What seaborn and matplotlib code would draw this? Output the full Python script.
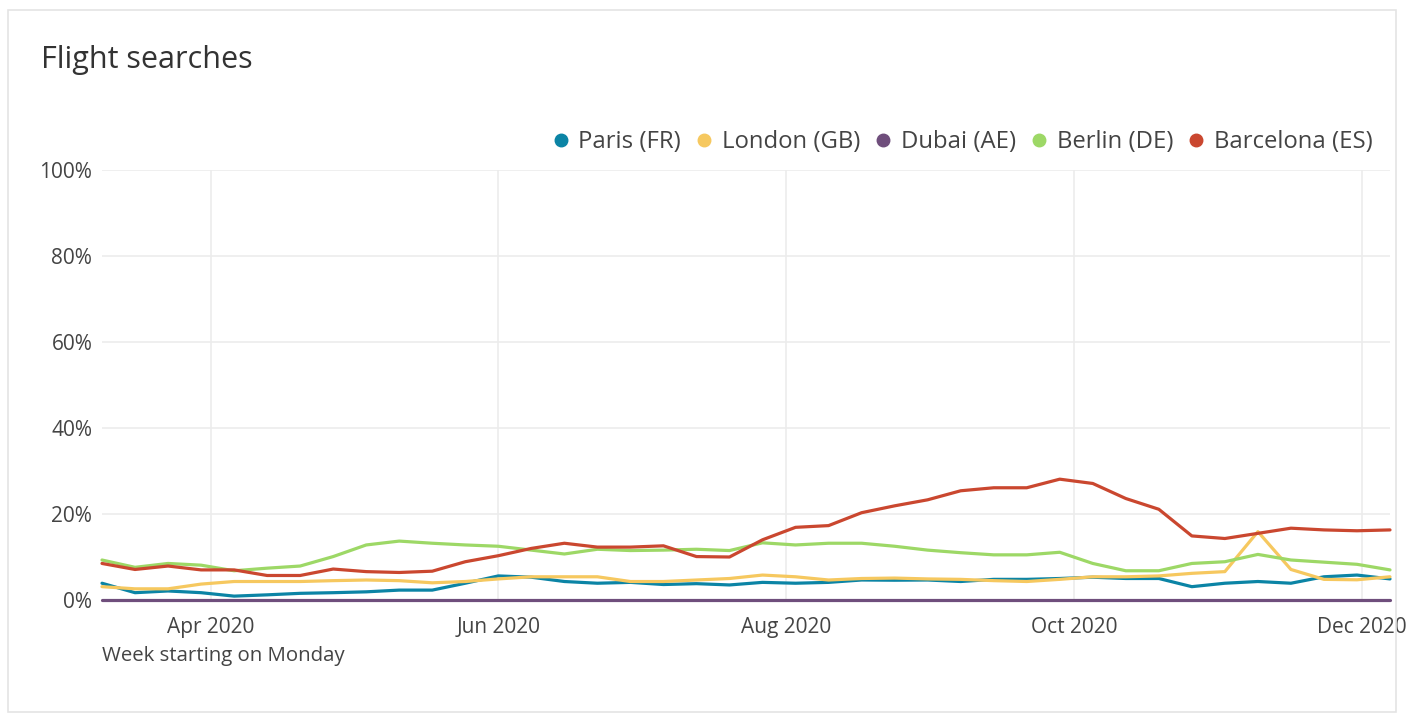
import pandas as pd
import numpy as np
import matplotlib
matplotlib.use("Agg")
import matplotlib.pyplot as plt
import matplotlib.dates as mdates
from matplotlib.lines import Line2D
from matplotlib.patches import Rectangle
import seaborn as sns

# weekly data, weeks starting on Monday 9 Mar 2020 .. 7 Dec 2020
weeks = pd.date_range("2020-03-09", "2020-12-07", freq="7D")

paris = [3.9, 1.7, 2.1, 1.7, 0.9, 1.2, 1.55, 1.7, 1.9, 2.3, 2.3, 3.9,
         5.6, 5.3, 4.3, 3.9, 4.1, 3.6, 3.8, 3.5, 4.1, 3.9, 4.1, 4.65,
         4.6, 4.65, 4.3, 4.8, 4.8, 5.0, 5.3, 5.0, 5.0, 3.1, 3.9, 4.3,
         3.9, 5.4, 5.8, 4.9]
london = [3.1, 2.6, 2.6, 3.7, 4.3, 4.3, 4.3, 4.5, 4.65, 4.5, 4.0, 4.3,
          4.9, 5.4, 5.4, 5.4, 4.3, 4.3, 4.65, 5.0, 5.8, 5.4, 4.65, 5.0,
          5.1, 4.9, 4.8, 4.5, 4.3, 4.8, 5.4, 5.4, 5.6, 6.2, 6.6, 15.9,
          7.1, 4.8, 4.7, 5.4]
dubai = [0.0] * 40
berlin = [9.3, 7.6, 8.5, 8.1, 6.8, 7.4, 7.9, 10.1, 12.8, 13.7, 13.2, 12.8,
          12.5, 11.6, 10.7, 11.8, 11.5, 11.6, 11.8, 11.5, 13.3, 12.8, 13.2, 13.2,
          12.5, 11.6, 11.0, 10.5, 10.5, 11.1, 8.5, 6.8, 6.8, 8.5, 8.9, 10.6,
          9.3, 8.8, 8.3, 7.0]
barcelona = [8.5, 7.1, 7.9, 7.0, 7.0, 5.7, 5.7, 7.2, 6.6, 6.4, 6.7, 8.9,
             10.3, 12.0, 13.2, 12.3, 12.3, 12.6, 10.1, 10.0, 14.0, 16.9, 17.3, 20.3,
             21.9, 23.3, 25.4, 26.1, 26.1, 28.1, 27.1, 23.6, 21.1, 14.9, 14.3, 15.5,
             16.7, 16.3, 16.1, 16.3]

cities = ["Paris (FR)", "London (GB)", "Dubai (AE)", "Berlin (DE)", "Barcelona (ES)"]
colors = ["#0b84a5", "#f6c85f", "#6f4e7c", "#9dd866", "#ca472f"]
month_ticks = ["2020-04-01", "2020-06-01", "2020-08-01", "2020-10-01", "2020-12-01"]

df = pd.DataFrame({"week": weeks, "Paris (FR)": paris, "London (GB)": london,
                   "Dubai (AE)": dubai, "Berlin (DE)": berlin,
                   "Barcelona (ES)": barcelona})
long_df = df.melt(id_vars="week", var_name="city", value_name="share")

sns.set_style("white")
plt.rcParams["font.family"] = ["Open Sans", "DejaVu Sans"]
text_col = "#444444"

W, H = 1406, 714
fig = plt.figure(figsize=(W / 100, H / 100), dpi=100)
ax = fig.add_axes([102 / W, 1 - 600 / H, (1390 - 102) / W, (600 - 170) / H])

# card frame
fig.patches.append(Rectangle((8 / W, 2 / H), (1396 - 8) / W, (704 - 2) / H,
                             transform=fig.transFigure, fill=False,
                             edgecolor="#e4e4e4", linewidth=1.2))

sns.lineplot(data=long_df, x="week", y="share", hue="city", hue_order=cities,
             palette=colors, linewidth=2.3, ax=ax, legend=False, clip_on=False)

ax.set_xlim(weeks[0], weeks[-1])
ax.set_ylim(0, 100)
ax.set_yticks([0, 20, 40, 60, 80, 100])
ax.set_yticklabels([f"{v}%" for v in [0, 20, 40, 60, 80, 100]])
ax.set_xticks(pd.to_datetime(month_ticks))
ax.xaxis.set_major_formatter(mdates.DateFormatter("%b %Y"))
ax.grid(True, color="#ececec", linewidth=1.2)
ax.set_axisbelow(True)
for s in ax.spines.values():
    s.set_visible(False)
ax.tick_params(axis="both", length=0, labelsize=15, labelcolor=text_col)
ax.tick_params(axis="y", pad=7)
ax.tick_params(axis="x", pad=12)
ax.set_xlabel("")
ax.set_ylabel("")

fig.text(41 / W, 1 - 60 / H, "Flight searches", fontsize=22, color="#333333",
         va="center", ha="left")
fig.text(102 / W, 1 - 656 / H, "Week starting on Monday", fontsize=14.7,
         color=text_col, va="center", ha="left")

handles = [Line2D([], [], marker="o", linestyle="", markersize=9,
                  markerfacecolor=c, markeredgecolor=c) for c in colors]
fig.legend(handles, cities, loc="center right", ncol=5,
           bbox_to_anchor=(1382 / W, 1 - 142 / H), frameon=False,
           fontsize=17.2, labelcolor=text_col, handletextpad=0.3,
           columnspacing=0.5, handlelength=0.9, borderaxespad=0)

fig.savefig("out.png", dpi=100)
